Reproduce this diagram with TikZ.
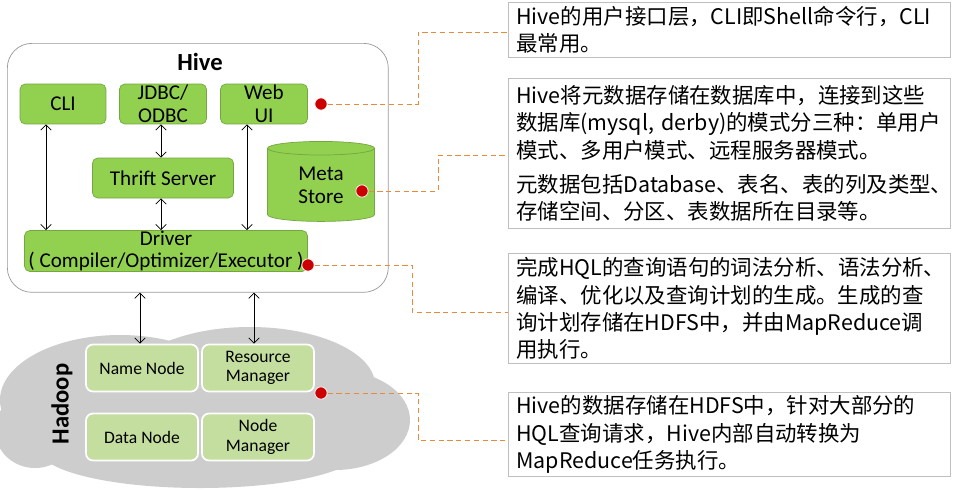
\documentclass[tikz,border=0pt]{standalone}
\usepackage{fontspec}
\setmainfont{Carlito}
\newfontfamily\cjk{Noto Sans CJK SC}
\usetikzlibrary{positioning,shapes.geometric,arrows.meta}
\definecolor{hivegreen}{RGB}{146,208,80}
\definecolor{hadoopgreen}{RGB}{196,222,160}
\definecolor{cloudgray}{RGB}{205,205,205}
\definecolor{linkorange}{RGB}{228,140,60}
\definecolor{dotred}{RGB}{204,0,0}
\begin{document}
\begin{tikzpicture}[x=0.02cm,y=-0.02cm,
		comp/.style={ % Hive 内部组件
				draw=hivegreen!80!black, fill=hivegreen, rounded corners=3pt,
				font=\fontsize{12}{13}\selectfont, align=center, inner sep=0pt
			},
		hnode/.style={ % Hadoop 组件
				draw=white, line width=1pt, fill=hadoopgreen, rounded corners=4pt,
				font=\fontsize{10}{11}\selectfont, align=center, inner sep=0pt,
				minimum width=2.24cm, minimum height=0.94cm
			},
		note/.style={ % 右侧说明框
				draw=black!25, fill=white, anchor=north west, inner ysep=2pt, inner xsep=0.16cm,
				text width=8.52cm, align=left
			},
		link/.style={densely dashed, linkorange, thin},
		pin/.style={circle, fill=dotred, draw=white, inner sep=0pt, minimum size=7pt},
		both/.style={{Straight Barb[length=3pt]}-{Straight Barb[length=3pt]}}
	]
	\useasboundingbox (0,0) rectangle (955,490);
	% 云
	\fill[cloudgray] (120,400) ellipse (120 and 65);
	\fill[cloudgray] (250,385) ellipse (125 and 58);
	\fill[cloudgray] (335,420) ellipse (75 and 50);
	\fill[cloudgray] (200,450) ellipse (160 and 38);
	\fill[cloudgray] (35,430) ellipse (40 and 38);
	% Hive 框
	\node[draw=black!40, fill=white, rounded corners=14pt, minimum width=7.62cm, minimum height=4.98cm,
		anchor=north west] (hive) at (7,43) {};
	\node[font=\bfseries\fontsize{14}{15}\selectfont] (hivelbl) at (200,62) {Hive};
	\node[comp, minimum width=1.72cm, minimum height=0.8cm] (cli) at (63,104) {CLI};
	\node[comp, minimum width=1.74cm, minimum height=0.8cm] (jdbc) at (163,104) {JDBC/\\ODBC};
	\node[comp, minimum width=1.74cm, minimum height=0.8cm] (web) at (264,104) {Web\\UI};
	\node[comp, minimum width=2.82cm, minimum height=0.8cm] (thrift) at (163,178) {Thrift Server};
	\node[cylinder, shape border rotate=90, aspect=0.3, draw=hivegreen!80!black, fill=hivegreen,
		minimum width=2.14cm, minimum height=1.6cm, font=\fontsize{12}{13}\selectfont,
		align=center, inner sep=0pt] (meta) at (321,185) {Meta\\Store};
	\node[comp, minimum width=5.66cm, minimum height=0.82cm] (driver) at (166,251)
	{Driver\\( Compiler/Optimizer/Executor )};
	% 组件间箭头
	\draw[both] (cli.south -| 46,0) -- (driver.north -| 46,0);
	\draw[both] (jdbc.south -| 161,0) -- (thrift.north -| 161,0);
	\draw[both] (thrift.south -| 161,0) -- (driver.north -| 161,0);
	\draw[both] (web.south -| 247,0) -- (driver.north -| 247,0);
	% Hadoop
	\node[hnode] (nn) at (142,368) {Name Node};
	\node[hnode] (rm) at (258,368) {Resource\\Manager};
	\node[hnode] (dn) at (142,437) {Data Node};
	\node[hnode] (nm) at (258,437) {Node\\Manager};
	\node[rotate=90, font=\bfseries\fontsize{14}{15}\selectfont] (hadoop) at (62,404) {Hadoop};
	\draw[both] (hive.south -| 140,0) -- (nn.north -| 140,0);
	\draw[both] (hive.south -| 254,0) -- (rm.north -| 254,0);
	% 说明框
	\begin{scope}[every node/.append style={font=\cjk\fontsize{12.2}{15.4}\selectfont}]
		\node[note, minimum height=1.1cm] (n1) at (508,2)
		{Hive的用户接口层，CLI即Shell命令行，CLI\\最常用。};
		\node[note, minimum height=3cm] (n2) at (508,78)
		{Hive将元数据存储在数据库中，连接到这些\\数据库(mysql,~derby)的模式分三种：单用户\\模式、多用户模式、远程服务器模式。\\[4pt]
		元数据包括Database、表名、表的列及类型、\\存储空间、分区、表数据所在目录等。};
		\node[note, minimum height=2.2cm] (n3) at (508,253)
		{完成HQL的查询语句的词法分析、语法分析、\\编译、优化以及查询计划的生成。生成的查\\询计划存储在HDFS中，并由MapReduce调\\用执行。};
		\node[note, minimum height=1.5cm] (n4) at (508,392)
		{Hive的数据存储在HDFS中，针对大部分的\\HQL查询请求，Hive内部自动转换为\\MapReduce任务执行。};
	\end{scope}
	% 连线与红点
	\node[pin] (p1) at (321,104) {};
	\node[pin] (p2) at (362,191) {};
	\node[pin] (p3) at (308,265) {};
	\node[pin] (p4) at (321,393) {};
	\draw[link] (p1) -| (418,32) -- (n1.west |- 0,32);
	\draw[link] (p2) -| (438,155) -- (n2.west |- 0,155);
	\draw[link] (p3) -| (412,312) -- (n3.west |- 0,312);
	\draw[link] (p4) -| (418,440) -- (n4.west |- 0,440);
\end{tikzpicture}
\end{document}
